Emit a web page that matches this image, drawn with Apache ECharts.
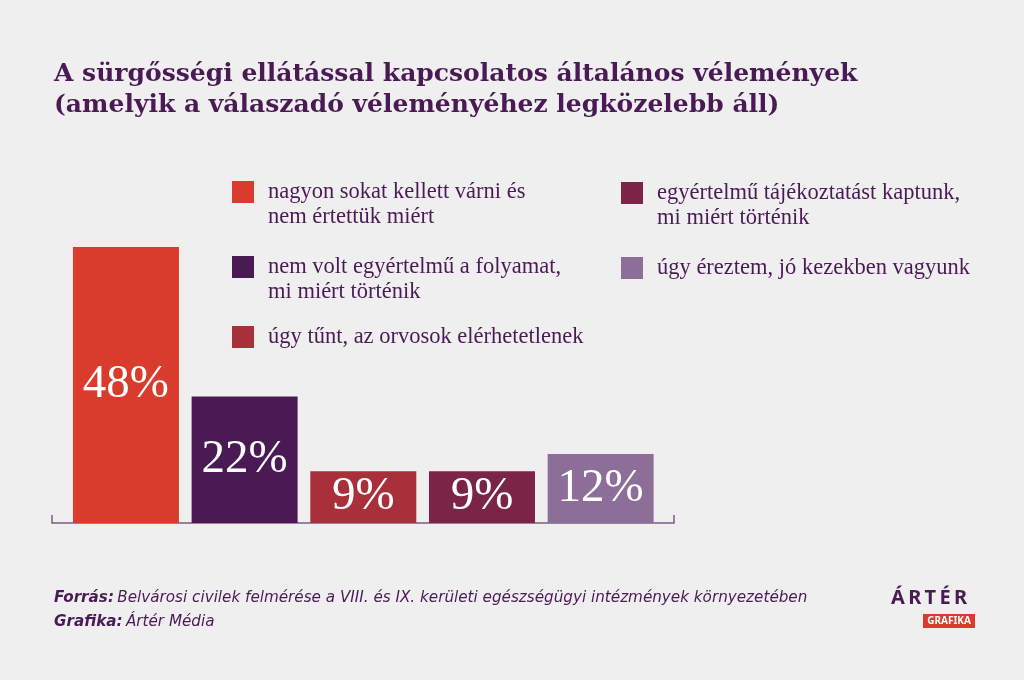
<!DOCTYPE html>
<html lang="hu">
<head>
<meta charset="UTF-8">
<title>Sürgősségi ellátás vélemények</title>
<script src="https://cdn.jsdelivr.net/npm/echarts@6/dist/echarts.min.js"></script>
<style>
  html, body { margin: 0; padding: 0; background: #f0efef; }
  #main { width: 1024px; height: 680px; }
</style>
</head>
<body>
<div id="main"></div>
<script>
// adatok
const categories = [
    'nagyon sokat kellett várni és\nnem értettük miért',
    'nem volt egyértelmű a folyamat,\nmi miért történik',
    'úgy tűnt, az orvosok elérhetetlenek',
    'egyértelmű tájékoztatást kaptunk,\nmi miért történik',
    'úgy éreztem, jó kezekben vagyunk'
]
const values = [48, 22, 9, 9, 12]
const colors = ['#d93c2c', '#4a1a55', '#a92f3a', '#7a2447', '#8c6e99']

const purple = '#4a1a55'
const serif = '"Liberation Serif", "DejaVu Serif", serif'
const sans = '"DejaVu Sans", "Noto Sans", sans-serif'

// legend positions (icon top) - two columns
const legendPos = [
    { left: 232, top: 181 },
    { left: 232, top: 256 },
    { left: 232, top: 326 },
    { left: 621, top: 182 },
    { left: 621, top: 257 }
]

// every bar is its own series so the legend can list them
const series = categories.map(function (name, i) {
    return {
        name: name,
        type: 'bar',
        stack: 'all',
        barWidth: 106,
        itemStyle: { color: colors[i] },
        label: {
            show: true,
            position: 'inside',
            formatter: '{c}%',
            color: '#fff',
            fontFamily: serif,
            fontSize: 47
        },
        data: values.map(function (v, j) { return j === i ? v : '-' })
    }
})

// an empty first line keeps the square level with the first text line
const legends = categories.map(function (name, i) {
    const twoLine = name.indexOf('\n') > -1
    return {
        data: [name],
        left: legendPos[i].left,
        top: legendPos[i].top - (twoLine ? 26.5 : 1.5),
        padding: 0,
        icon: 'rect',
        itemWidth: 22,
        itemHeight: 22,
        selectedMode: false,
        formatter: function (n) { return twoLine ? '\n' + n : n },
        textStyle: {
            color: purple,
            fontFamily: serif,
            fontSize: 22.5,
            lineHeight: 25,
            padding: [0, 0, 0, 9]
        }
    }
})

const myChart = echarts.init(document.getElementById('main'))
const option = {
    backgroundColor: '#f0efef',
    animation: false,
    title: {
        text: 'A sürgősségi ellátással kapcsolatos általános vélemények\n(amelyik a válaszadó véleményéhez legközelebb áll)',
        left: 54,
        top: 59,
        padding: 0,
        textStyle: {
            color: purple,
            fontFamily: '"DejaVu Serif", serif',
            fontWeight: 'bold',
            fontSize: 25,
            lineHeight: 31
        }
    },
    legend: legends,
    grid: { left: 66.6, right: 364, top: 235.5, bottom: 157 },
    xAxis: {
        type: 'category',
        data: categories,
        axisLine: { show: false },
        axisTick: { show: false },
        axisLabel: { show: false }
    },
    yAxis: {
        type: 'value',
        min: 0,
        max: 50,
        show: false
    },
    series: series,
    graphic: [
        {
            type: 'polyline',
            shape: { points: [[52, 515], [52, 523], [674, 523], [674, 515]] },
            style: { stroke: '#7d5b8a', lineWidth: 1.5, fill: null }
        },
        {
            type: 'text',
            left: 54,
            top: 586,
            style: {
                text: '{b|Forrás:} {r|Belvárosi civilek felmérése a VIII. és IX. kerületi egészségügyi intézmények környezetében}\n{b|Grafika:} {r|Ártér Média}',
                lineHeight: 24,
                rich: {
                    b: { fontFamily: sans, fontStyle: 'italic', fontWeight: 'bold', fontSize: 15.2, fill: purple, lineHeight: 24 },
                    r: { fontFamily: sans, fontStyle: 'italic', fontSize: 15.2, fill: purple, lineHeight: 24 }
                }
            }
        },
        // logo
        {
            type: 'text',
            left: 891,
            top: 588,
            style: {
                text: 'Á\u2009R\u2009T\u2009É\u2009R',
                fontFamily: '"Noto Sans", sans-serif',
                fontWeight: 'bold',
                fontSize: 20,
                fill: purple
            }
        },
        {
            type: 'rect',
            shape: { x: 923, y: 614, width: 52, height: 14 },
            style: { fill: '#d93c2c' }
        },
        {
            type: 'text',
            x: 949,
            y: 621,
            style: {
                text: 'GRAFIKA',
                align: 'center',
                verticalAlign: 'middle',
                fontFamily: '"Noto Sans", sans-serif',
                fontWeight: 'bold',
                fontSize: 10,
                fill: '#fff'
            }
        }
    ]
}
myChart.setOption(option)
</script>
</body>
</html>
